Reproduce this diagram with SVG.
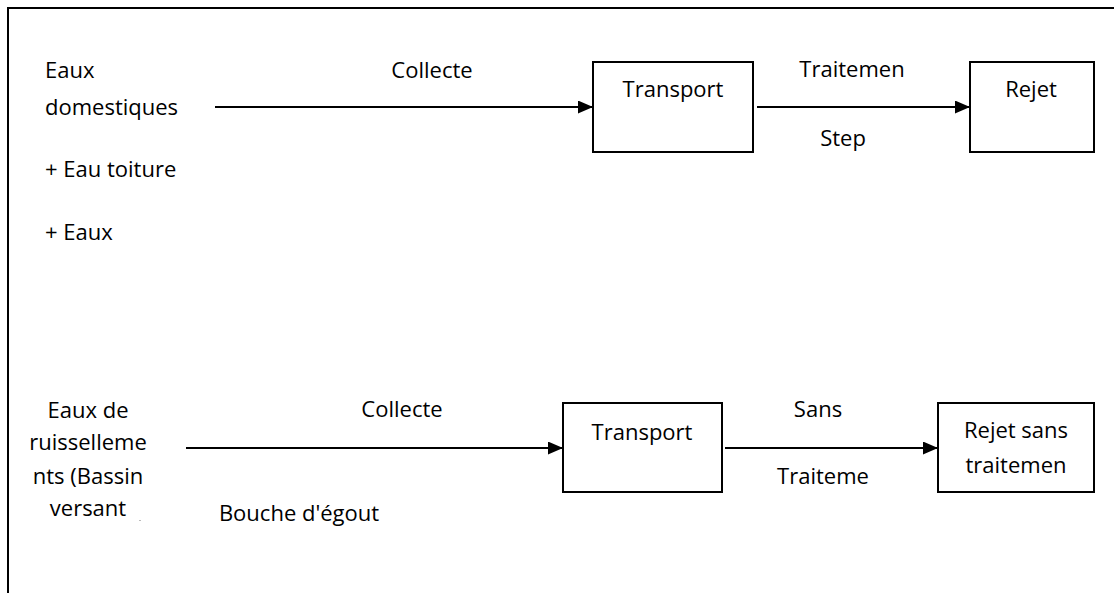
<svg xmlns="http://www.w3.org/2000/svg" width="1114" height="593" viewBox="0 0 1114 593">
<defs>
<marker id="arr" markerWidth="15" markerHeight="13" refX="15" refY="6.5" orient="auto" markerUnits="userSpaceOnUse">
<path d="M0,0 L15,6.5 L0,13 Z" fill="#000"/>
</marker>
<style>
text{font-family:"Open Sans","Noto Sans",sans-serif;font-size:22px;fill:#000}
.c{text-anchor:middle}
.box{fill:#fff;stroke:#000;stroke-width:2}
.con{stroke:#000;stroke-width:2;fill:none;marker-end:url(#arr)}
</style>
</defs>
<rect width="1114" height="593" fill="#fff"/>
<g id="frame" stroke="#000" stroke-width="2" fill="none">
<path d="M8,593 L8,8 L1114,8"/>
</g>
<g id="connectors">
<line class="con" x1="215" y1="107" x2="593" y2="107"/>
<line class="con" x1="757" y1="107" x2="970" y2="107"/>
<line class="con" x1="186" y1="448" x2="563" y2="448"/>
<line class="con" x1="725" y1="448" x2="938" y2="448"/>
</g>
<g id="source1">
<text x="45" y="78">Eaux</text>
<text x="45" y="115">domestiques</text>
<text x="45" y="177">+ Eau toiture</text>
<text x="45" y="240">+ Eaux</text>
</g>
<g id="label-collecte1"><text class="c" x="432" y="78">Collecte</text></g>
<g id="transport1">
<rect class="box" x="593" y="62" width="160" height="90"/>
<text class="c" x="673" y="97">Transport</text>
</g>
<g id="label-traitement1">
<text class="c" x="852" y="77">Traitemen</text>
<text class="c" x="843" y="146">Step</text>
</g>
<g id="rejet1">
<rect class="box" x="970" y="62" width="124" height="90"/>
<text class="c" x="1031" y="97">Rejet</text>
</g>
<g id="source2">
<text class="c" x="88" y="418">Eaux de</text>
<text class="c" x="88" y="450">ruisselleme</text>
<text class="c" x="88" y="484">nts (Bassin</text>
<text class="c" x="88" y="516">versant</text>
<rect x="139" y="520" width="2" height="1" fill="#bbb"/>
</g>
<g id="label-collecte2">
<text class="c" x="402" y="417">Collecte</text>
<text class="c" x="299" y="521">Bouche d'égout</text>
</g>
<g id="transport2">
<rect class="box" x="563" y="403" width="159" height="89"/>
<text class="c" x="642" y="440">Transport</text>
</g>
<g id="label-traitement2">
<text class="c" x="818" y="417">Sans</text>
<text class="c" x="823" y="484">Traiteme</text>
</g>
<g id="rejet2">
<rect class="box" x="938" y="403" width="156" height="89"/>
<text class="c" x="1016" y="438">Rejet sans</text>
<text class="c" x="1016" y="473">traitemen</text>
</g>
</svg>
